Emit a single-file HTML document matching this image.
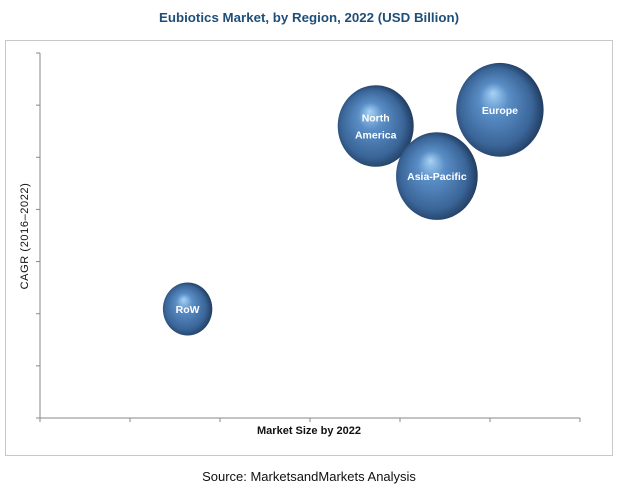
<!DOCTYPE html>
<html><head><meta charset="utf-8">
<style>
html,body{margin:0;padding:0;background:#fff;}
body{width:619px;height:491px;position:relative;overflow:hidden;font-family:"Liberation Sans",sans-serif;}
svg{position:absolute;left:0;top:0;}
</style></head>
<body>
<svg width="619" height="491" viewBox="0 0 619 491">
<defs>
<radialGradient id="ball" cx="0.47" cy="0.52" r="0.55" fx="0.42" fy="0.32">
<stop offset="0" stop-color="#a6d2f5"/>
<stop offset="0.3" stop-color="#5a8ec6"/>
<stop offset="0.75" stop-color="#3a6598"/>
<stop offset="1" stop-color="#1d3658"/>
</radialGradient>
</defs>
<text x="309" y="22" text-anchor="middle" font-size="13" font-weight="bold" fill="#1f4e79" textLength="300" lengthAdjust="spacingAndGlyphs">Eubiotics Market, by Region, 2022 (USD Billion)</text>
<rect x="5.5" y="40.5" width="607" height="415" fill="none" stroke="#c8c8c8"/>
<g id="axes"></g>
<g id="bubbles"></g>
<text x="309" y="434" text-anchor="middle" font-size="11" font-weight="bold" fill="#111">Market Size by 2022</text>
<text transform="translate(28,236) rotate(-90)" text-anchor="middle" font-size="11" letter-spacing="0.6" fill="#111">CAGR (2016–2022)</text>
<text x="309" y="481" text-anchor="middle" font-size="13" fill="#111">Source: MarketsandMarkets Analysis</text>
</svg>
<script>
const regions=["Europe","North America","Asia-Pacific","RoW"];
const marketSize=[5.11,3.73,4.41,1.64];
const cagr=[5.91,5.60,4.64,2.09];
const bubbleSize=[46,40,43,26];
const xTicks=[0,1,2,3,4,5,6];
const yTicks=[0,1,2,3,4,5,6,7];
const X0=40,X1=580,Y0=418,Y1=53;
const sx=v=>X0+(v-0)/(6-0)*(X1-X0);
const sy=v=>Y0-(v-0)/(7-0)*(Y0-Y1);
const NS="http://www.w3.org/2000/svg";
const ax=document.getElementById('axes');
function mk(tag,attrs,parent){const e=document.createElementNS(NS,tag);for(const k in attrs)e.setAttribute(k,attrs[k]);parent.appendChild(e);return e;}
let l=mk('line',{x1:X0,y1:Y1,x2:X0,y2:Y0,stroke:'#888'},ax);


l=mk('line',{x1:X0,y1:Y0,x2:X1,y2:Y0,stroke:'#888'},ax);


yTicks.forEach(t=>{const e=mk('line',{x1:X0-4,y1:sy(t),x2:X0,y2:sy(t),stroke:'#888'},ax);

});
xTicks.forEach(t=>{const e=mk('line',{x1:sx(t),y1:Y0,x2:sx(t),y2:Y0+4,stroke:'#888'},ax);

});
const bg=document.getElementById('bubbles');
regions.forEach((r,i)=>{
const g=mk('g',{},bg);


const cx=sx(marketSize[i]),cy=sy(cagr[i]),rr=bubbleSize[i];
mk('ellipse',{cx:cx,cy:cy,rx:rr*0.95,ry:rr*1.02,fill:'url(#ball)'},g);
const words=r==="North America"?["North","America"]:[r];
words.forEach((w,j)=>{const t=mk('text',{x:cx,y:cy+4+(j-(words.length-1)/2)*17,'text-anchor':'middle','font-size':10.5,'font-weight':'bold',fill:'#fff'},g);t.textContent=w;

});
});
</script>
</body></html>
